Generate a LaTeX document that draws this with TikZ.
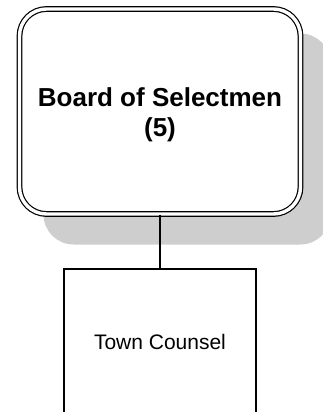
\documentclass[tikz,border=0pt]{standalone}
\usepackage{fontspec}
\setmainfont{Liberation Sans}
\definecolor{shadowgray}{RGB}{206,206,206}
\tikzset{
  boardbox/.style={draw=black, fill=white, line width=1.2pt, double=white, double distance=3.4pt,
    rounded corners=27pt, minimum width=281pt, minimum height=205pt, inner sep=0pt},
  boardshadow/.style={fill=shadowgray, rounded corners=30pt,
    minimum width=287pt, minimum height=211pt, inner sep=0pt},
  titletext/.style={align=center, font=\fontsize{26}{30}\selectfont\bfseries, inner sep=0pt},
  officebox/.style={draw=black, fill=white, line width=1.2pt, minimum width=192pt, minimum height=146pt,
    font=\fontsize{21}{25}\selectfont, inner sep=0pt},
  link/.style={draw=black, line width=1.2pt}
}
\begin{document}
\begin{tikzpicture}[x=1pt, y=-1pt]
  \useasboundingbox (0,0) rectangle (323,412);
  \clip (0,0) rectangle (323,412);
  % drop shadow behind the board
  \node[boardshadow] (shadow) at (187,139) {};
  % board of selectmen
  \node[boardbox] (board) at (160,111.5) {};
  \node[titletext] (boardtitle) at (160,114.4) {Board of Selectmen\\(5)};
  % town counsel
  \node[officebox] (counsel) at (160,342) {Town Counsel};
  \draw[link] (board.south) -- (counsel.north);
\end{tikzpicture}
\end{document}
